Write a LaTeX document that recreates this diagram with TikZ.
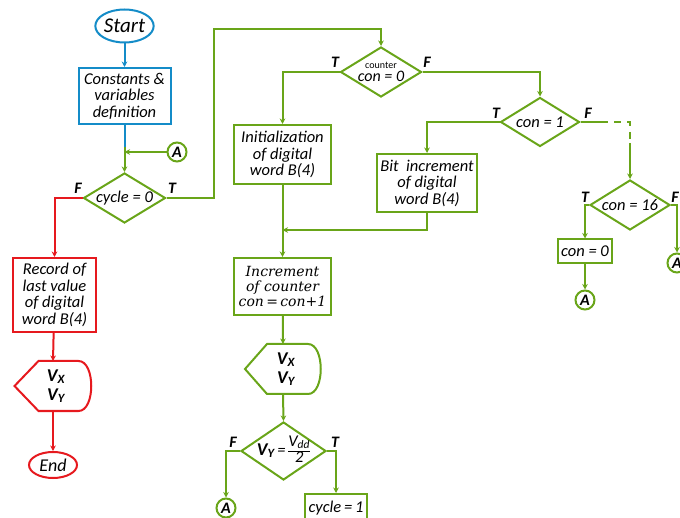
\documentclass[tikz,border=0pt]{standalone}
\usepackage{fontspec}
\setmainfont{Carlito}
\newfontfamily\serifit{DejaVu Serif}
\usetikzlibrary{shapes.geometric,arrows.meta,calc}
\definecolor{cblue}{RGB}{20,140,200}
\definecolor{cgreen}{RGB}{105,165,25}
\definecolor{cred}{RGB}{230,25,30}
\begin{document}
\begin{tikzpicture}[x=1pt,y=-1pt,line width=2pt,
  >={Stealth[length=5.5pt,width=5.5pt]},
  font=\itshape\fontsize{16.5}{16.5}\selectfont,
  box/.style={draw,rectangle,inner sep=0pt,align=center,text=black},
  dia/.style={draw,diamond,inner sep=0pt},
  conn/.style={draw,circle,inner sep=0pt,minimum size=19pt,text=black,font=\bfseries\itshape\fontsize{16}{16}\selectfont},
  tf/.style={font=\bfseries\itshape\fontsize{16}{16}\selectfont,inner sep=0pt,text=black},
  term/.style={draw,ellipse,inner sep=0pt,text=black},
  lab/.style={text=black,align=center,inner sep=0pt},
  disp/.style={inner sep=0pt,align=center,text=black,font=\bfseries\itshape\fontsize{18}{19}\selectfont}
]
\useasboundingbox (0,0) rectangle (680,518);
\clip (0,0) rectangle (680,518);

% ---- blue part
\node[term,draw=cblue,minimum width=58pt,minimum height=33pt,font=\itshape\fontsize{21}{21}\selectfont] (start) at (124.5,26) {Start};
\node[box,draw=cblue,minimum width=92pt,minimum height=56pt] (cvd) at (124.5,96) {Constants \&\\variables\\definition};
\coordinate (j0) at (124.5,147);
\coordinate (j0b) at (124.5,152);
\node[conn,draw=cgreen] (a1) at (177,152) {A};
\node[dia,draw=cgreen,minimum width=82pt,minimum height=50pt,label={[lab]center:{cycle = 0}}] (cyc) at (124.5,198) {};
\node[tf] (fcyc) at (78,188) {F};
\node[tf] (tcyc) at (172,188) {T};

\draw[cblue,->] (start) -- (cvd);
\draw[cblue] (cvd.south) -- (j0);
\draw[cgreen,->] (j0) -- (cyc.north);
\draw[cgreen,->] (a1.west) -- (j0b);

% ---- red part
\node[box,draw=cred,minimum width=83pt,minimum height=74pt] (rec) at (54.5,295) {Record of\\last value\\of digital\\word B(4)};
\node[disp,minimum width=75pt,minimum height=48pt] (dr) at (53,386) {\hspace*{6pt}V\textsubscript{X}\\\hspace*{6pt}V\textsubscript{Y}};
\draw[cred] (dr.west) -- ($(dr.north west)+(24,0)$) -- ($(dr.north east)+(-13,0)$)
  .. controls ($(dr.north east)+(4,0)$) and ($(dr.south east)+(4,0)$) .. ($(dr.south east)+(-13,0)$)
  -- ($(dr.south west)+(24,0)$) -- cycle;
\node[term,draw=cred,minimum width=48pt,minimum height=26pt,font=\itshape\fontsize{18}{18}\selectfont] (end) at (53,465) {End};

\draw[cred,->] (cyc.west) -| (rec.north);
\draw[cred,->] (rec) -- (dr.north);
\draw[cred,->] (dr.south) -- (end);

% ---- green part
\coordinate (top) at (214,29);
\node[dia,draw=cgreen,minimum width=81pt,minimum height=50pt,
  label={[lab,font=\fontsize{16}{11}\selectfont]center:{{\upshape\fontsize{10}{10}\selectfont counter}\\[2pt]\itshape con = 0}}] (c0) at (381,72) {};
\node[tf] (tc0) at (335,62) {T};
\node[tf] (fc0) at (427,62) {F};
\draw[cgreen,->] (cyc.east) -| (top) -| (c0.north);

\node[box,draw=cgreen,minimum width=97pt,minimum height=59pt] (init) at (282.5,154.5) {Initialization\\of digital\\word B(4)};
\node[dia,draw=cgreen,minimum width=79pt,minimum height=49pt,label={[lab]center:{con = 1}}] (c1) at (540,122) {};
\node[tf] (tc1) at (496,113) {T};
\node[tf] (fc1) at (588,113) {F};
\node[box,draw=cgreen,minimum width=100pt,minimum height=58pt] (bit) at (427,183) {Bit\ \ increment\\of digital\\word B(4)};
\coordinate (j1) at (282.5,230);

\draw[cgreen,->] (c0.west) -| (init.north);
\draw[cgreen,->] (c0.east) -| (c1.north);
\draw[cgreen,->] (c1.west) -| (bit.north);
\draw[cgreen,->] (bit.south) |- (j1);

\node[box,draw=cgreen,minimum width=97pt,minimum height=57pt,font=\serifit\itshape\fontsize{14}{15}\selectfont] (inc) at (282.5,286.5) {Increment\\of counter\\con\,=\,con+1};
\node[disp,minimum width=74pt,minimum height=48pt] (dg) at (283,369) {\hspace*{6pt}V\textsubscript{X}\\\hspace*{6pt}V\textsubscript{Y}};
\draw[cgreen] (dg.west) -- ($(dg.north west)+(22,0)$) -- ($(dg.north east)+(-13,0)$)
  .. controls ($(dg.north east)+(4,0)$) and ($(dg.south east)+(4,0)$) .. ($(dg.south east)+(-13,0)$)
  -- ($(dg.south west)+(22,0)$) -- cycle;
\node[dia,draw=cgreen,minimum width=85pt,minimum height=58pt,
  label={[lab]center:{{\bfseries\fontsize{18}{18}\selectfont V\textsubscript{Y}}\,=\,{\renewcommand\arraystretch{0.85}\setlength\arrayrulewidth{0.8pt}\begin{tabular}{@{}c@{}}V\textsubscript{dd}\\\hline 2\end{tabular}}}}] (vy) at (283.5,451) {};
\node[tf] (fvy) at (233,442) {F};
\node[tf] (tvy) at (335,442) {T};
\node[conn,draw=cgreen] (a2) at (226,508) {A};
\node[box,draw=cgreen,minimum width=62pt,minimum height=28pt] (cy1) at (336,508) {cycle\,=\,1};

\draw[cgreen,->] (init) -- (inc);
\draw[cgreen,->] (inc) -- (dg.north);
\draw[cgreen,->] (dg.south) -- (vy.north);
\draw[cgreen,->] (vy.west) -| (a2.north);
\draw[cgreen,->] (vy.east) -| (cy1.north);

% ---- right part
\coordinate (d1) at (601,122);
\coordinate (d2) at (630,122);
\coordinate (d3) at (630,143);
\node[dia,draw=cgreen,minimum width=80pt,minimum height=50pt,label={[lab]center:{con = 16}}] (c16) at (630,205) {};
\node[tf] (tc16) at (585,197) {T};
\node[tf] (fc16) at (675,197) {F};
\node[box,draw=cgreen,minimum width=54pt,minimum height=24pt] (con0) at (585,251.5) {con = 0};
\node[conn,draw=cgreen] (a3) at (585,300) {A};
\node[conn,draw=cgreen] (a4) at (677,263) {A};

\draw[cgreen] (c1.east) -- (d1);
\draw[cgreen,dash pattern=on 7pt off 6pt] (d1) -- (d2) -- (d3);
\draw[cgreen,->] (d3) -- (c16.north);
\draw[cgreen,->] (c16.west) -| (con0.north);
\draw[cgreen,->] (con0) -- (a3);
\draw[cgreen,->] (c16.east) -| (a4.north);
\end{tikzpicture}
\end{document}
